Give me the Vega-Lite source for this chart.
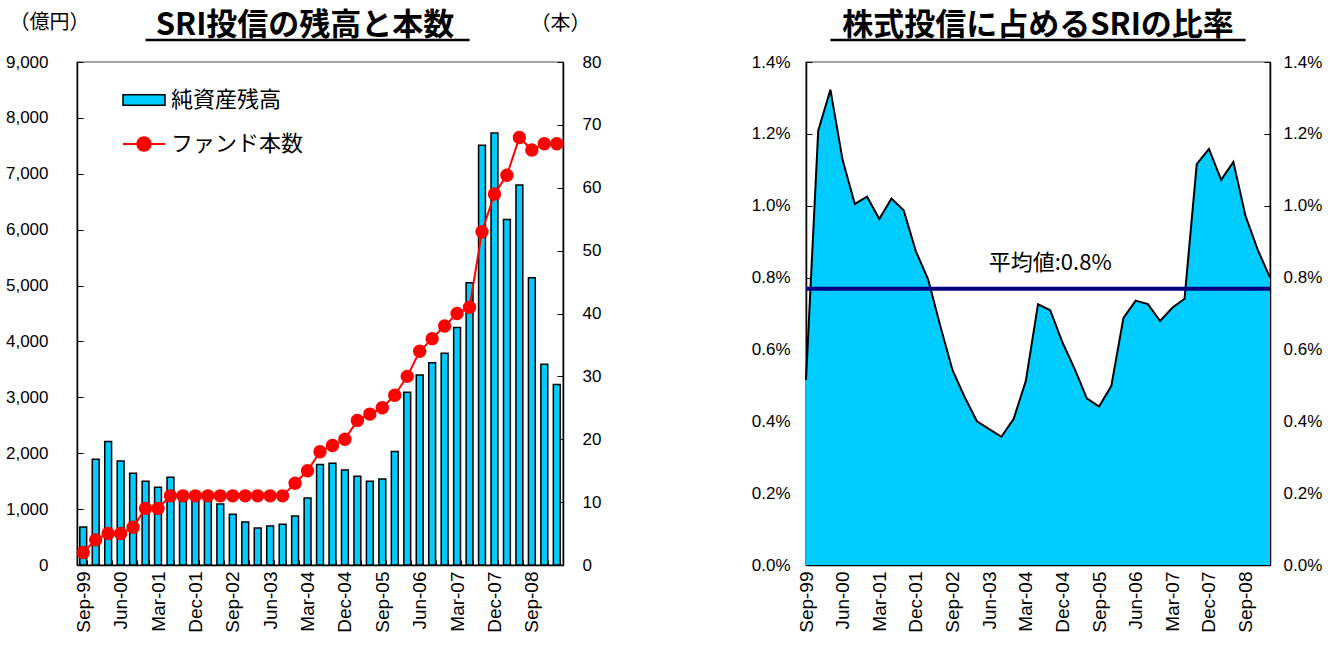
{
  "$schema": "https://vega.github.io/schema/vega-lite/v6.json",
  "padding": {"left": 4, "top": 9, "right": 5, "bottom": 2},
  "spacing": 148,
  "align": "none",
  "config": {
    "font": "Liberation Sans",
    "view": {"stroke": "#888888", "strokeWidth": 1.5},
    "axis": {
      "domainColor": "black", "domainWidth": 1.5, "tickColor": "black", "tickWidth": 1,
      "labelColor": "black", "labelFont": "Liberation Sans", "labelFontSize": 17, "grid": false,
      "titleColor": "black"
    },
    "title": {"font": "Noto Sans CJK JP", "fontSize": 31, "fontWeight": "bold", "color": "black"}
  },
  "datasets": {
    "d": [
      {"q": "Sep-99", "amt": 680, "funds": 2, "r": 0.00515},
      {"q": "Dec-99", "amt": 1890, "funds": 4, "r": 0.01209},
      {"q": "Mar-00", "amt": 2210, "funds": 5, "r": 0.01323},
      {"q": "Jun-00", "amt": 1860, "funds": 5, "r": 0.01127},
      {"q": "Sep-00", "amt": 1640, "funds": 6, "r": 0.01005},
      {"q": "Dec-00", "amt": 1500, "funds": 9, "r": 0.01025},
      {"q": "Mar-01", "amt": 1390, "funds": 9, "r": 0.00963},
      {"q": "Jun-01", "amt": 1570, "funds": 11, "r": 0.01020},
      {"q": "Sep-01", "amt": 1250, "funds": 11, "r": 0.00987},
      {"q": "Dec-01", "amt": 1240, "funds": 11, "r": 0.00873},
      {"q": "Mar-02", "amt": 1230, "funds": 11, "r": 0.00795},
      {"q": "Jun-02", "amt": 1090, "funds": 11, "r": 0.00665},
      {"q": "Sep-02", "amt": 910, "funds": 11, "r": 0.00542},
      {"q": "Dec-02", "amt": 770, "funds": 11, "r": 0.00467},
      {"q": "Mar-03", "amt": 660, "funds": 11, "r": 0.00400},
      {"q": "Jun-03", "amt": 700, "funds": 11, "r": 0.00378},
      {"q": "Sep-03", "amt": 730, "funds": 11, "r": 0.00357},
      {"q": "Dec-03", "amt": 875, "funds": 13, "r": 0.00406},
      {"q": "Mar-04", "amt": 1200, "funds": 15, "r": 0.00512},
      {"q": "Jun-04", "amt": 1800, "funds": 18, "r": 0.00726},
      {"q": "Sep-04", "amt": 1820, "funds": 19, "r": 0.00709},
      {"q": "Dec-04", "amt": 1700, "funds": 20, "r": 0.00620},
      {"q": "Mar-05", "amt": 1590, "funds": 23, "r": 0.00546},
      {"q": "Jun-05", "amt": 1500, "funds": 24, "r": 0.00464},
      {"q": "Sep-05", "amt": 1540, "funds": 25, "r": 0.00441},
      {"q": "Dec-05", "amt": 2030, "funds": 27, "r": 0.00498},
      {"q": "Mar-06", "amt": 3090, "funds": 30, "r": 0.00688},
      {"q": "Jun-06", "amt": 3400, "funds": 34, "r": 0.00736},
      {"q": "Sep-06", "amt": 3620, "funds": 36, "r": 0.00726},
      {"q": "Dec-06", "amt": 3790, "funds": 38, "r": 0.00679},
      {"q": "Mar-07", "amt": 4250, "funds": 40, "r": 0.00716},
      {"q": "Jun-07", "amt": 5050, "funds": 41, "r": 0.00741},
      {"q": "Sep-07", "amt": 7510, "funds": 53, "r": 0.01116},
      {"q": "Dec-07", "amt": 7730, "funds": 59, "r": 0.01158},
      {"q": "Mar-08", "amt": 6180, "funds": 62, "r": 0.01072},
      {"q": "Jun-08", "amt": 6800, "funds": 68, "r": 0.01122},
      {"q": "Sep-08", "amt": 5140, "funds": 66, "r": 0.00971},
      {"q": "Dec-08", "amt": 3590, "funds": 67, "r": 0.00877},
      {"q": "Mar-09", "amt": 3230, "funds": 67, "r": 0.00800}
    ]
  },
  "hconcat": [
    {
      "width": 486,
      "height": 503,
      "data": {"name": "d"},
      "title": {"text": "SRI投信の残高と本数", "offset": -30, "dx": -15},
      "layer": [
        {
          "mark": {"type": "bar", "stroke": "black", "strokeWidth": 1.5},
          "encoding": {
            "x": {
              "field": "q", "type": "ordinal", "sort": null,
              "scale": {"paddingInner": 0.45, "paddingOuter": 0.225},
              "axis": {
                "title": null, "labelAngle": -90, "labelFontSize": 19, "tickBand": "extent",
                "tickSize": -5, "labelPadding": 11,
                "labelExpr": "indexof(['Sep-99','Jun-00','Mar-01','Dec-01','Sep-02','Jun-03','Mar-04','Dec-04','Sep-05','Jun-06','Mar-07','Dec-07','Sep-08'], datum.value) >= 0 ? datum.value : ''"
              }
            },
            "y": {
              "field": "amt", "type": "quantitative",
              "scale": {"domain": [0, 9000], "nice": false},
              "axis": {
                "title": "（億円）", "titleAngle": 0, "titleX": -28, "titleY": -40,
                "titleAlign": "center", "titleBaseline": "middle", "titleFont": "Noto Sans CJK JP",
                "titleFontSize": 20, "titleFontWeight": "normal",
                "values": [0, 1000, 2000, 3000, 4000, 5000, 6000, 7000, 8000, 9000],
                "format": ",d", "labelFontSize": 17,
                "tickSize": -6, "labelPadding": 35
              }
            },
            "fill": {
              "datum": "純資産残高", "type": "nominal",
              "scale": {"range": ["#00CCFF"]},
              "legend": {
                "title": null, "orient": "none", "legendX": 45, "legendY": 16, "padding": 0,
                "symbolType": "M-1,-0.25H1V0.25H-1Z", "symbolSize": 1764,
                "symbolStrokeColor": "black", "symbolStrokeWidth": 1.5,
                "labelFont": "Noto Sans CJK JP", "labelFontSize": 22, "labelColor": "black", "labelOffset": 5
              }
            }
          }
        },
        {
          "mark": {"type": "line", "strokeWidth": 2, "point": {"filled": true, "size": 130, "color": "#FF0000"}},
          "encoding": {
            "x": {"field": "q", "type": "ordinal", "sort": null},
            "y": {
              "field": "funds", "type": "quantitative",
              "scale": {"domain": [0, 80], "nice": false},
              "axis": {
                "orient": "right",
                "title": "（本）", "titleAngle": 0, "titleX": -3, "titleY": -39,
                "titleAlign": "center", "titleBaseline": "middle", "titleFont": "Noto Sans CJK JP",
                "titleFontSize": 20, "titleFontWeight": "normal",
                "values": [0, 10, 20, 30, 40, 50, 60, 70, 80],
                "labelFontSize": 17,
                "tickSize": -6, "labelPadding": 25
              }
            },
            "stroke": {
              "datum": "ファンド本数", "type": "nominal",
              "scale": {"range": ["#FF0000"]},
              "legend": {
                "title": null, "orient": "none", "legendX": 45, "legendY": 60, "padding": 0,
                "symbolType": "M-1,0H1M-0.32,0A0.32,0.32,0,1,0,0.32,0A0.32,0.32,0,1,0,-0.32,0Z",
                "symbolSize": 1764, "symbolFillColor": "#FF0000", "symbolStrokeColor": "#FF0000", "symbolStrokeWidth": 2,
                "labelFont": "Noto Sans CJK JP", "labelFontSize": 22, "labelColor": "black", "labelOffset": 5
              }
            }
          }
        },
        {
          "data": {"values": [{}]},
          "mark": {"type": "rule", "color": "black", "strokeWidth": 2.5},
          "encoding": {
            "x": {"datum": "Dec-00", "type": "ordinal"},
            "x2": {"datum": "Jun-07"},
            "y": {"datum": 9394, "type": "quantitative", "scale": {"domain": [0, 9000], "nice": false}, "axis": null}
          }
        }
      ],
      "resolve": {"scale": {"y": "independent", "fill": "independent", "stroke": "independent"}}
    },
    {
      "width": 464,
      "height": 503,
      "title": {"text": "株式投信に占めるSRIの比率", "offset": -3},
      "layer": [
        {
          "data": {"name": "d"},
          "mark": {"type": "area", "color": "#00CCFF", "opacity": 1, "line": {"color": "black", "strokeWidth": 2}},
          "encoding": {
            "x": {
              "field": "q", "type": "ordinal", "sort": null,
              "scale": {"type": "point", "padding": 0},
              "axis": {
                "title": null, "labelAngle": -90, "labelFontSize": 19,
                "tickSize": -5, "labelPadding": 11,
                "labelExpr": "indexof(['Sep-99','Jun-00','Mar-01','Dec-01','Sep-02','Jun-03','Mar-04','Dec-04','Sep-05','Jun-06','Mar-07','Dec-07','Sep-08'], datum.value) >= 0 ? datum.value : ''"
              }
            },
            "y": {
              "field": "r", "type": "quantitative",
              "scale": {"domain": [0, 0.014], "nice": false},
              "axis": {
                "title": null, "format": ".1%",
                "values": [0, 0.002, 0.004, 0.006, 0.008, 0.010, 0.012, 0.014],
                "tickSize": -6, "labelPadding": 22
              }
            }
          }
        },
        {
          "data": {"name": "d"},
          "transform": [{"aggregate": [{"op": "mean", "field": "r", "as": "m"}]}],
          "mark": {"type": "rule", "color": "#000080", "strokeWidth": 4},
          "encoding": {
            "y": {
              "field": "m", "type": "quantitative",
              "scale": {"domain": [0, 0.014], "nice": false},
              "axis": {
                "orient": "right", "title": null, "format": ".1%",
                "values": [0, 0.002, 0.004, 0.006, 0.008, 0.010, 0.012, 0.014],
                "tickSize": -6, "labelPadding": 19
              }
            }
          }
        },
        {
          "data": {"values": [{"t": "平均値:0.8%"}]},
          "mark": {"type": "text", "font": "Noto Sans CJK JP", "fontSize": 22, "color": "black", "baseline": "middle"},
          "encoding": {
            "text": {"field": "t"},
            "x": {"datum": "Sep-04", "type": "ordinal"},
            "y": {"datum": 0.0084, "type": "quantitative", "scale": {"domain": [0, 0.014], "nice": false}, "axis": null}
          }
        },
        {
          "data": {"values": [{}]},
          "mark": {"type": "rule", "color": "black", "strokeWidth": 2.5},
          "encoding": {
            "x": {"datum": "Mar-00", "type": "ordinal"},
            "x2": {"datum": "Sep-08"},
            "y": {"datum": 0.014612, "type": "quantitative", "scale": {"domain": [0, 0.014], "nice": false}, "axis": null}
          }
        }
      ],
      "resolve": {"scale": {"y": "independent"}}
    }
  ]
}
